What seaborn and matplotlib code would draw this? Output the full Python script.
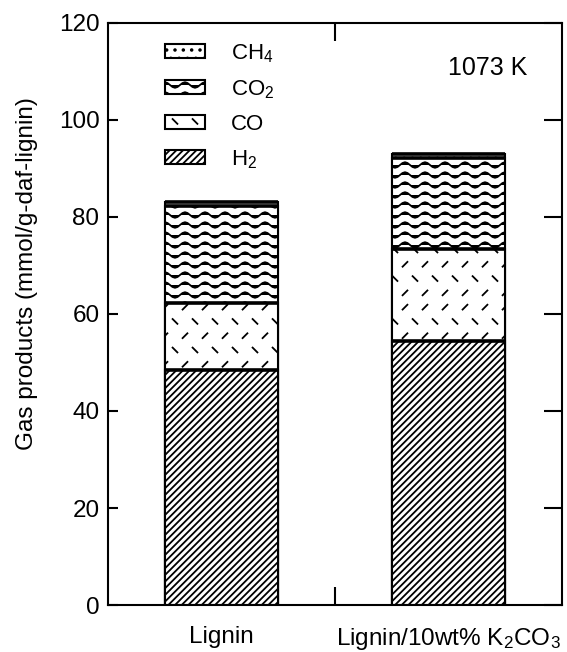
import warnings
import numpy as np
import pandas as pd
import matplotlib
matplotlib.use("Agg")
import matplotlib.pyplot as plt
from matplotlib import hatch as mhatch
from matplotlib.path import Path
from matplotlib.patches import Patch
import seaborn as sns

warnings.filterwarnings("ignore")

samples = ["Lignin", "Lignin/10wt% K$_2$CO$_3$"]
h2 = [48.5, 54.5]
co = [13.8, 18.9]
co2 = [19.9, 18.7]
ch4 = [0.8, 0.8]
gas_labels = ["CH$_4$", "CO$_2$", "CO", "H$_2$"]


# wavy hatch ('~') and short-dash hatch (':') that matplotlib lacks
class WaveHatch(mhatch.HatchPatternBase):
    def __init__(self, hatch, density):
        self.rows = hatch.count('~') * 10
        self.pts = 41
        self.num_vertices = self.rows * self.pts

    def set_vertices_and_codes(self, vertices, codes):
        x = np.linspace(0, 1, self.pts)
        for r in range(self.rows):
            s = slice(r * self.pts, (r + 1) * self.pts)
            vertices[s, 0] = x
            vertices[s, 1] = (r + 0.5) / self.rows + 0.028 * np.sin(2 * np.pi * 5 * x)
            codes[s] = Path.LINETO
            codes[r * self.pts] = Path.MOVETO


class DashHatch(mhatch.HatchPatternBase):
    def __init__(self, hatch, density):
        n = hatch.count(':')
        self.cols = 5 * n
        self.rows = 7 * n
        self.num_vertices = self.cols * self.rows * 2

    def set_vertices_and_codes(self, vertices, codes):
        d = 0.024
        k = 0
        for r in range(self.rows):
            yc = (r + 0.5) / self.rows
            sgn = 1 if r % 2 == 0 else -1
            for c in range(self.cols):
                xc = (c + 0.25 + 0.5 * (r % 2)) / self.cols
                vertices[k] = [xc - d, yc - sgn * d]
                vertices[k + 1] = [xc + d, yc + sgn * d]
                codes[k] = Path.MOVETO
                codes[k + 1] = Path.LINETO
                k += 2


mhatch._hatch_types.extend([WaveHatch, DashHatch])

sns.set_style("ticks")
plt.rcParams['font.family'] = ['Liberation Sans', 'DejaVu Sans']
plt.rcParams['mathtext.default'] = 'regular'
plt.rcParams['hatch.linewidth'] = 1.3
plt.rcParams['text.color'] = 'black'
plt.rcParams['axes.labelcolor'] = 'black'
plt.rcParams['xtick.color'] = 'black'
plt.rcParams['ytick.color'] = 'black'
plt.rcParams['axes.edgecolor'] = 'black'

df = pd.DataFrame({"sample": samples, "H2": h2, "CO": co, "CO2": co2, "CH4": ch4})
df["c_h2"] = df["H2"]
df["c_co"] = df["c_h2"] + df["CO"]
df["c_co2"] = df["c_co"] + df["CO2"]
df["c_ch4"] = df["c_co2"] + df["CH4"]

fig = plt.figure(figsize=(5.67, 6.52), dpi=100)
ax = fig.add_axes([0.19, 0.072, 0.801, 0.893])

layers = [("c_ch4", ".."), ("c_co2", "~"), ("c_co", ":"), ("c_h2", "/////")]
for col, hp in layers:
    sns.barplot(data=df, x="sample", y=col, color="white", saturation=1,
                edgecolor="black", linewidth=1.5, hatch=hp, width=0.5,
                errorbar=None, ax=ax)

xs = np.arange(len(samples))
for col, _ in layers:
    ax.hlines(df[col], xs - 0.25, xs + 0.25, colors="black", linewidth=2.6)

ax.set_xlim(-0.5, 1.5)
ax.set_ylim(0, 120)
ax.set_yticks(np.arange(0, 121, 20))
ax.set_xlabel("")
ax.set_ylabel("Gas products (mmol/g-daf-lignin)", fontsize=17.5)
ax.yaxis.set_label_coords(-0.153, 0.57)

for s in ax.spines.values():
    s.set_linewidth(1.5)
ax.tick_params(axis="y", which="major", direction="in", left=True, right=True,
               length=7, width=1.5, labelsize=17.5, pad=6)
for t in ax.yaxis.get_major_ticks():
    t.tick2line.set_markersize(13)
ax.tick_params(axis="x", which="major", length=0, labelsize=17.5, pad=15)
ax.set_xticks([0.5], minor=True)
ax.tick_params(axis="x", which="minor", direction="in", top=True, bottom=True,
               length=13, width=1.5)

handles = [Patch(facecolor="white", edgecolor="black", linewidth=1.5, hatch=hp)
           for _, hp in layers]
ax.legend(handles, gas_labels, loc="upper left", bbox_to_anchor=(0.125, 0.967),
          frameon=False, fontsize=16, handlelength=1.8, handleheight=0.6,
          handletextpad=1.2, labelspacing=0.6, borderpad=0, borderaxespad=0)

ax.text(0.923, 0.923, "1073 K", transform=ax.transAxes, ha="right", va="center",
        fontsize=18)

fig.savefig("out.png", dpi=100)
